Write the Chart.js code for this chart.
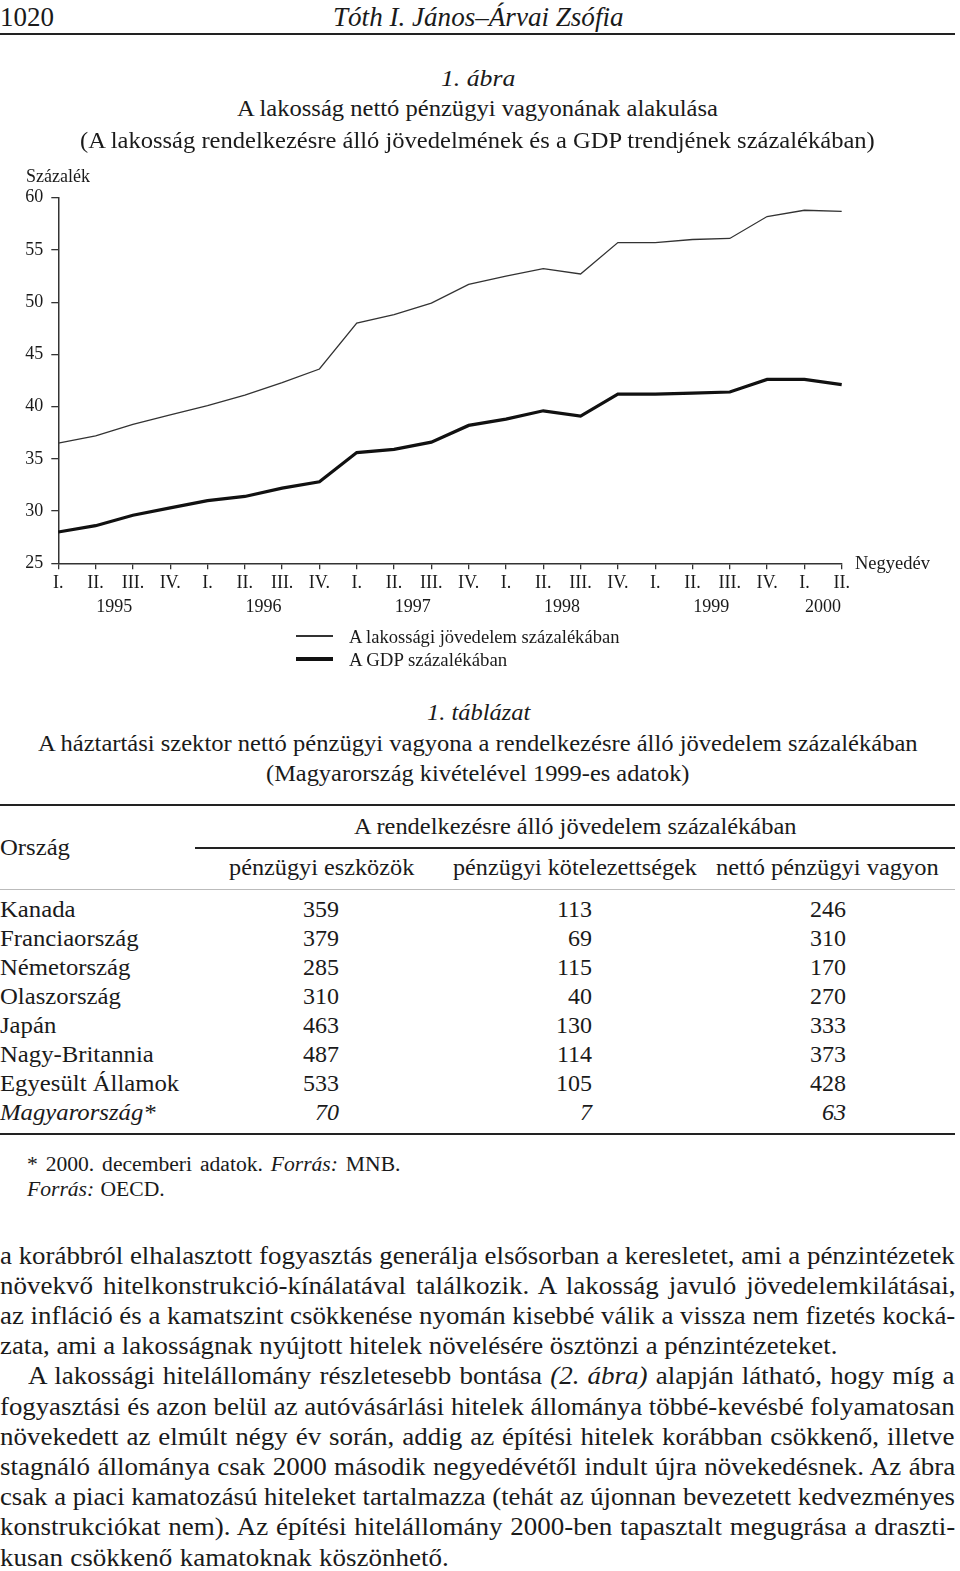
<!DOCTYPE html>
<html>
<head>
<meta charset="utf-8">
<script src="https://cdn.jsdelivr.net/npm/chart.js@4/dist/chart.umd.min.js"></script>
<style>
    body {
        margin: 0;
        background: #fff;
        width: 960px;
        height: 1571px;
        position: relative;
        overflow: hidden;
        font-family: 'Liberation Serif', 'Times New Roman', serif;
        color: #1a1a1a;
    }
    .t {
        position: absolute;
        white-space: nowrap;
        transform-origin: 0 50%;
        line-height: 1;
    }
    .rule {
        position: absolute;
        background: #222;
    }
    #chartBox {
        position: absolute;
        left: 0;
        top: 150px;
        width: 960px;
        height: 480px;
    }
</style>
</head>
<body>
<div id="chartBox"><canvas id="lineChart" width="960" height="480"></canvas></div>
<script>
// quarters on the x axis
let quarterLabels = ['I.', 'II.', 'III.', 'IV.', 'I.', 'II.', 'III.', 'IV.', 'I.', 'II.', 'III.', 'IV.',
    'I.', 'II.', 'III.', 'IV.', 'I.', 'II.', 'III.', 'IV.', 'I.', 'II.'];
let quarterYears = ['1995', '1995', '1995', '1995', '1996', '1996', '1996', '1996', '1997', '1997', '1997', '1997',
    '1998', '1998', '1998', '1998', '1999', '1999', '1999', '1999', '2000', '2000'];
let years = ['1995', '1996', '1997', '1998', '1999', '2000'];

// series (percent)
let incomeShare = [36.5, 37.2, 38.3, 39.2, 40.1, 41.1, 42.3, 43.6, 48.0, 48.8, 49.9, 51.7,
    52.5, 53.2, 52.7, 55.7, 55.7, 56.0, 56.1, 58.2, 58.8, 58.7];
let gdpShare = [28.0, 28.6, 29.6, 30.3, 31.0, 31.4, 32.2, 32.8, 35.6, 35.9, 36.6, 38.2,
    38.8, 39.6, 39.1, 41.2, 41.2, 41.3, 41.4, 42.6, 42.6, 42.1];
let yTicks = [25, 30, 35, 40, 45, 50, 55, 60];

// table
let countries = ['Kanada', 'Franciaország', 'Németország', 'Olaszország', 'Japán', 'Nagy-Britannia', 'Egyesült Államok', 'Magyarország*'];
let assets = [359, 379, 285, 310, 463, 487, 533, 70];
let liabilities = [113, 69, 115, 40, 130, 114, 105, 7];
let netWealth = [246, 310, 170, 270, 333, 373, 428, 63];

// with a right edge the text is fitted: glyphs are scaled a little, the rest goes into the word gaps
let place = function (html, left, cy, size, opts) {
    opts = opts || {};
    let el = document.createElement('div');
    el.className = 't';
    el.innerHTML = html;
    el.style.fontSize = size + 'px';
    if (opts.italic) el.style.fontStyle = 'italic';
    document.body.appendChild(el);
    el.style.top = (cy - size / 2) + 'px';
    let w = el.offsetWidth;
    if (opts.fit) {
        let target = opts.right - left;
        let gaps = (el.textContent.match(/ /g) || []).length;
        let s = target / w;
        if (gaps) s = Math.min(Math.max(s, 0.95), 1.08);
        el.style.left = left + 'px';
        el.style.transform = 'scaleX(' + s + ')';
        if (gaps) el.style.wordSpacing = ((target / s - w) / gaps) + 'px';
    } else if (opts.right !== undefined) {
        el.style.left = (opts.right - w * (opts.scale || 1)) + 'px';
        if (opts.scale) el.style.transform = 'scaleX(' + opts.scale + ')';
    } else {
        el.style.left = left + 'px';
        if (opts.scale) el.style.transform = 'scaleX(' + opts.scale + ')';
    }
    return el;
};

let rule = function (x1, x2, y, h, color) {
    let el = document.createElement('div');
    el.className = 'rule';
    el.style.left = x1 + 'px';
    el.style.width = (x2 - x1) + 'px';
    el.style.top = (y - h / 2) + 'px';
    el.style.height = h + 'px';
    if (color) el.style.background = color;
    document.body.appendChild(el);
};

// page header
place('1020', 0, 17, 28, {right: 54, fit: true});
place('Tóth I. János–Árvai Zsófia', 333, 17, 27, {italic: true, right: 624, fit: true});
rule(0, 955, 34, 2);

// figure title
place('1. ábra', 441, 78, 24, {italic: true, right: 515, fit: true});
place('A lakosság nettó pénzügyi vagyonának alakulása', 237, 108, 24, {right: 718, fit: true});
place('(A lakosság rendelkezésre álló jövedelmének és a GDP trendjének százalékában)', 80, 140, 24, {right: 875, fit: true});
place('Százalék', 26, 176, 18, {right: 90, fit: true});
place('Negyedév', 855, 563, 18, {right: 930, fit: true});

// legend
rule(296, 333, 636, 1.3, '#333');
place('A lakossági jövedelem százalékában', 349, 637, 18, {right: 619, fit: true});
rule(296, 333, 659, 3.2, '#111');
place('A GDP százalékában', 349, 660, 18, {right: 507, fit: true});

// table title
place('1. táblázat', 427, 712, 24, {italic: true, right: 530, fit: true});
place('A háztartási szektor nettó pénzügyi vagyona a rendelkezésre álló jövedelem százalékában', 38, 743, 24, {right: 918, fit: true});
place('(Magyarország kivételével 1999-es adatok)', 266, 773, 24, {right: 690, fit: true});

rule(0, 955, 805, 2);
place('A rendelkezésre álló jövedelem százalékában', 354, 826, 24, {right: 796, fit: true});
place('Ország', 0, 847, 24, {right: 70, fit: true});
rule(195, 955, 848, 1.6);
place('pénzügyi eszközök', 229, 867, 24, {right: 414, fit: true});
place('pénzügyi kötelezettségek', 453, 867, 24, {right: 697, fit: true});
place('nettó pénzügyi vagyon', 716, 867, 24, {right: 939, fit: true});
rule(0, 955, 889, 1, '#bbb');

countries.forEach(function (name, i) {
    let cy = 909 + i * 29;
    let italic = name === 'Magyarország*';
    place(name, 0, cy, 24, {italic: italic, scale: 1.03});
    place(String(assets[i]), 0, cy, 24, {italic: italic, right: 339});
    place(String(liabilities[i]), 0, cy, 24, {italic: italic, right: 592});
    place(String(netWealth[i]), 0, cy, 24, {italic: italic, right: 846});
});
rule(0, 955, 1134, 2);

place('* 2000. decemberi adatok. <i>Forrás:</i> MNB.', 27, 1164, 20, {right: 400, fit: true});
place('<i>Forrás:</i> OECD.', 27, 1189, 20, {right: 165, fit: true});

// body text, one entry per printed line with its left and right edge
let bodyLines = [
    ['a korábbról elhalasztott fogyasztás generálja elsősorban a keresletet, ami a pénzintézetek', 0, 955],
    ['növekvő hitelkonstrukció-kínálatával találkozik. A lakosság javuló jövedelemkilátásai,', 0, 955],
    ['az infláció és a kamatszint csökkenése nyomán kisebbé válik a vissza nem fizetés kocká-', 0, 955],
    ['zata, ami a lakosságnak nyújtott hitelek növelésére ösztönzi a pénzintézeteket.', 0, 837],
    ['A lakossági hitelállomány részletesebb bontása <i>(2. ábra)</i> alapján látható, hogy míg a', 28, 955],
    ['fogyasztási és azon belül az autóvásárlási hitelek állománya többé-kevésbé folyamatosan', 0, 955],
    ['növekedett az elmúlt négy év során, addig az építési hitelek korábban csökkenő, illetve', 0, 955],
    ['stagnáló állománya csak 2000 második negyedévétől indult újra növekedésnek. Az ábra', 0, 955],
    ['csak a piaci kamatozású hiteleket tartalmazza (tehát az újonnan bevezetett kedvezményes', 0, 955],
    ['konstrukciókat nem). Az építési hitelállomány 2000-ben tapasztalt megugrása a draszti-', 0, 955],
    ['kusan csökkenő kamatoknak köszönhető.', 0, 449]
];
bodyLines.forEach(function (line, i) {
    place(line[0], line[1], 1255 + i * 30.2, 25, {right: line[2], fit: true});
});

// chart
let tickFont = {family: "'Liberation Serif', serif", size: 18};

let yearLabelsPlugin = {
    id: 'yearLabels',
    afterDraw: function (chart) {
        let x = chart.scales.x;
        let ctx = chart.ctx;
        ctx.save();
        ctx.font = "18px 'Liberation Serif'";
        ctx.fillStyle = '#1a1a1a';
        ctx.textAlign = 'center';
        ctx.textBaseline = 'middle';
        years.forEach(function (yr) {
            let idx = [];
            quarterYears.forEach(function (y, i) {
                if (y === yr) idx.push(i);
            });
            let px = (x.getPixelForValue(idx[0]) + x.getPixelForValue(idx[idx.length - 1])) / 2;
            ctx.fillText(yr, px, x.top + 44);
        });
        ctx.restore();
    }
};

let ctx = document.getElementById('lineChart').getContext('2d');
window.lineChart = new Chart(ctx, {
    type: 'line',
    data: {
        labels: quarterLabels,
        datasets: [{
            label: 'A lakossági jövedelem százalékában',
            data: incomeShare,
            borderColor: '#333',
            borderWidth: 1.3,
            pointRadius: 0,
            tension: 0,
            fill: false
        }, {
            label: 'A GDP százalékában',
            data: gdpShare,
            borderColor: '#111',
            borderWidth: 3.2,
            pointRadius: 0,
            tension: 0,
            fill: false
        }]
    },
    options: {
        responsive: false,
        animation: false,
        devicePixelRatio: 1,
        layout: {
            padding: {left: 0, right: 118.3, top: 47.7, bottom: 0}
        },
        plugins: {
            legend: {display: false},
            tooltip: {enabled: false}
        },
        scales: {
            x: {
                type: 'category',
                offset: false,
                grid: {drawOnChartArea: false, drawTicks: true, tickLength: 6, color: '#333', lineWidth: 1.3},
                border: {color: '#333', width: 1.5},
                ticks: {font: tickFont, color: '#1a1a1a', padding: 3, maxRotation: 0, autoSkip: false},
                afterFit: function (scale) {
                    scale.height = 66.7;
                }
            },
            y: {
                min: 25,
                max: 60,
                grid: {drawOnChartArea: false, drawTicks: true, tickLength: 7, color: '#333', lineWidth: 1.3},
                border: {color: '#333', width: 1.5},
                afterBuildTicks: function (scale) {
                    scale.ticks = yTicks.map(function (v) {
                        return {value: v};
                    });
                },
                ticks: {font: tickFont, color: '#1a1a1a', padding: 8},
                afterFit: function (scale) {
                    scale.width = 58.3;
                }
            }
        }
    },
    plugins: [yearLabelsPlugin]
});
</script>
</body>
</html>
